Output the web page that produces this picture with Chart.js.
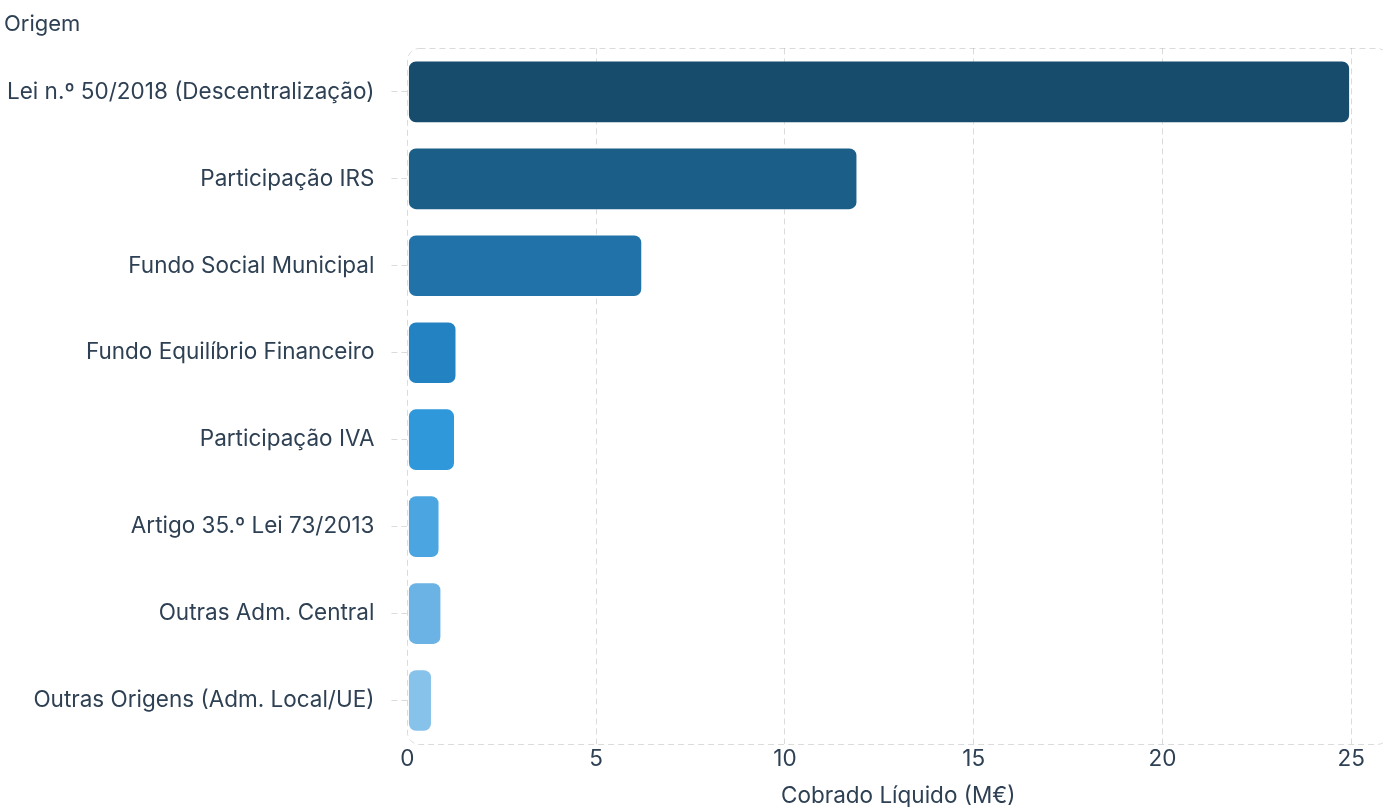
<!DOCTYPE html>
<html lang="pt">
<head>
<meta charset="utf-8">
<title>Cobrado Líquido por Origem</title>
<script src="https://cdn.jsdelivr.net/npm/chart.js@4.4.1/dist/chart.umd.min.js"></script>
<style>
  html, body { margin: 0; padding: 0; background: #fff; overflow: hidden; }
  #wrap { position: relative; width: 1389px; height: 810px; }
</style>
</head>
<body>
<div id="wrap"><canvas id="receitasChart"></canvas></div>
<script>
// Receitas por origem (milhões de euros)
const origens = [
  'Lei n.º 50/2018 (Descentralização)',
  'Participação IRS',
  'Fundo Social Municipal',
  'Fundo Equilíbrio Financeiro',
  'Participação IVA',
  'Artigo 35.º Lei 73/2013',
  'Outras Adm. Central',
  'Outras Origens (Adm. Local/UE)'
];
const cobradoLiquido = [24.97, 11.92, 6.22, 1.30, 1.26, 0.85, 0.90, 0.65];
const coresBarras = ['#174c6d', '#1b5e87', '#2072a8', '#2383c2', '#2e98db', '#4ba5e0', '#6bb2e5', '#86c2ea'];
const tituloEixoY = 'Origem';
const tituloEixoX = 'Cobrado Líquido (M€)';

const corTexto = '#2e4053';
const corGrelha = 'rgba(0, 0, 0, 0.14)';
const fonte = 'Inter, "Noto Sans", sans-serif';

// moldura tracejada com cantos arredondados à volta da área do gráfico
const molduraArea = {
  id: 'molduraArea',
  beforeDatasetsDraw(chart) {
    const { ctx, chartArea: a } = chart;
    ctx.save();
    ctx.strokeStyle = corGrelha;
    ctx.lineWidth = 1;
    ctx.setLineDash([6, 4]);
    ctx.beginPath();
    ctx.roundRect(Math.round(a.left) + 0.5, Math.round(a.top) + 0.5, a.right - a.left, Math.round(a.bottom - a.top), 12);
    ctx.stroke();
    ctx.restore();
  }
};

new Chart(document.getElementById('receitasChart'), {
  type: 'bar',
  data: {
    labels: origens,
    datasets: [{
      label: tituloEixoX,
      data: cobradoLiquido,
      backgroundColor: coresBarras,
      borderColor: 'rgba(255, 255, 255, 0.35)',
      borderWidth: 1,
      borderRadius: 8,
      borderSkipped: false,
      categoryPercentage: 0.8,
      barPercentage: 0.9
    }]
  },
  options: {
    indexAxis: 'y',
    responsive: true,
    maintainAspectRatio: false,
    animation: false,
    layout: { padding: { left: 4, right: 0, top: 0, bottom: 0 } },
    plugins: {
      legend: { display: false },
      tooltip: { enabled: false },
      title: {
        display: true,
        text: tituloEixoY,
        align: 'start',
        color: corTexto,
        font: { family: fonte, size: 22, weight: 'normal' },
        padding: { top: 11, bottom: 11 }
      }
    },
    scales: {
      x: {
        min: 0,
        max: 26,
        border: { display: false, dash: [6, 4] },
        grid: {
          color: ctx => ctx.index === 0 ? 'rgba(0,0,0,0)' : corGrelha,
          drawTicks: false
        },
        ticks: {
          stepSize: 5,
          includeBounds: false,
          padding: 2,
          color: corTexto,
          font: { family: fonte, size: 22.5 }
        },
        title: {
          display: true,
          text: tituloEixoX,
          color: corTexto,
          font: { family: fonte, size: 22.5 },
          padding: { top: 8, bottom: 0 }
        }
      },
      y: {
        border: { display: false },
        grid: {
          offset: false,
          drawOnChartArea: false,
          drawTicks: true,
          tickLength: 30,
          tickColor: corGrelha,
          tickBorderDash: [6, 4, 6, 14],
          tickBorderDashOffset: 16
        },
        ticks: {
          padding: 3,
          color: corTexto,
          font: { family: fonte, size: 22.5 }
        }
      }
    }
  },
  plugins: [molduraArea]
});
</script>
</body>
</html>
